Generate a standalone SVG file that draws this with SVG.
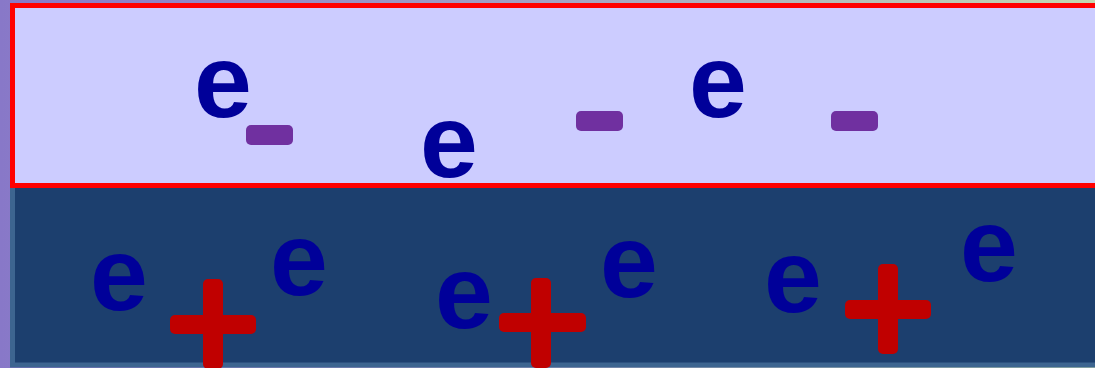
<svg xmlns="http://www.w3.org/2000/svg" width="1095" height="368" viewBox="0 0 1095 368">
  <defs>
    <linearGradient id="bg" x1="0" y1="0" x2="1" y2="0">
      <stop offset="0" stop-color="#8878c8"/>
      <stop offset="0.5" stop-color="#a4a2c4"/>
      <stop offset="1" stop-color="#c4d8b0"/>
    </linearGradient>
  </defs>
  <style>
    .e { font-family: "Liberation Sans", Arial, sans-serif; font-weight: bold; font-size: 104px; fill: #000099; text-anchor: middle; }
    .minus { fill: #7030a0; }
    .plus { fill: #c00000; }
  </style>
  <rect x="0" y="0" width="1095" height="368" fill="url(#bg)"/>
  <g id="lower-layer">
    <rect x="12.5" y="185" width="1100" height="180" fill="#1c3f6e" stroke="#3d6590" stroke-width="5"/>
  </g>
  <g id="upper-layer">
    <rect x="12.5" y="5.5" width="1100" height="180" fill="#ccccff" stroke="#ff0000" stroke-width="5"/>
  </g>
  <g id="electrons-top">
    <text class="e" x="223" y="117">e</text>
    <text class="e" x="449" y="177">e</text>
    <text class="e" x="718" y="117">e</text>
  </g>
  <g id="minus-signs">
    <rect class="minus" x="246" y="125" width="47" height="20" rx="5"/>
    <rect class="minus" x="576" y="111" width="47" height="20" rx="5"/>
    <rect class="minus" x="831" y="111" width="47" height="20" rx="5"/>
  </g>
  <g id="electrons-bottom">
    <text class="e" x="119" y="310">e</text>
    <text class="e" x="299" y="295">e</text>
    <text class="e" x="464" y="328">e</text>
    <text class="e" x="629" y="297">e</text>
    <text class="e" x="793" y="312">e</text>
    <text class="e" x="989" y="281">e</text>
  </g>
  <g id="plus-signs">
    <rect class="plus" x="170" y="315" width="86" height="19" rx="5"/>
    <rect class="plus" x="203" y="279" width="20" height="90" rx="5"/>
    <rect class="plus" x="499" y="313" width="87" height="19" rx="5"/>
    <rect class="plus" x="531" y="278" width="20" height="90" rx="5"/>
    <rect class="plus" x="845" y="300" width="86" height="19" rx="5"/>
    <rect class="plus" x="878" y="264" width="20" height="90" rx="5"/>
  </g>
</svg>
